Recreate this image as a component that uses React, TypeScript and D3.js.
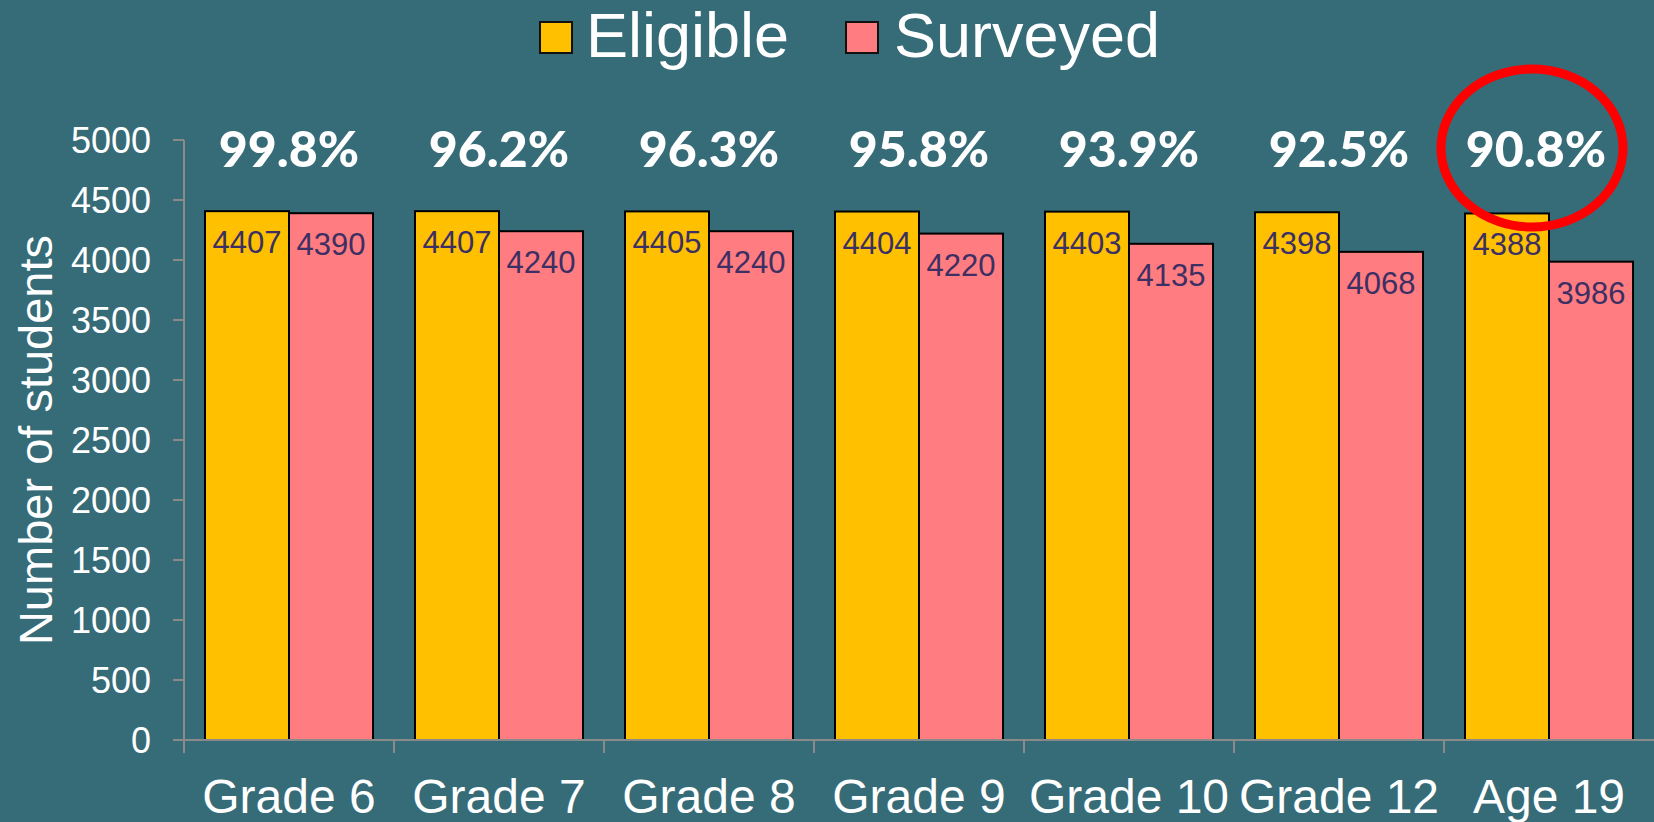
import React from 'react';
import * as d3 from 'd3';

const categories = ['Grade 6', 'Grade 7', 'Grade 8', 'Grade 9', 'Grade 10', 'Grade 12', 'Age 19'];
const eligible = [4407, 4407, 4405, 4404, 4403, 4398, 4388];
const surveyed = [4390, 4240, 4240, 4220, 4135, 4068, 3986];
const rates = ['99.8%', '96.2%', '96.3%', '95.8%', '93.9%', '92.5%', '90.8%'];
const yTicks = [0, 500, 1000, 1500, 2000, 2500, 3000, 3500, 4000, 4500, 5000];
const seriesNames = ['Eligible', 'Surveyed'];

const W = 1654;
const H = 822;
const BG = '#366b78';
const colors = ['#ffc000', '#ff7c80'];
const labelColor = '#3b2f63';
const axisColor = '#8a8a8a';
const sans = 'Liberation Sans, Arial, sans-serif';

export default function App() {
  const margin = { top: 140, right: 0, bottom: 82, left: 184 };

  const x = d3.scaleBand()
    .domain(categories)
    .range([margin.left, W - margin.right])
    .paddingInner(0.2)
    .paddingOuter(0.1);
  // band spans the whole category slot; bars sit inside it
  const step = x.step();
  const slot = (c: string) => x(c)! - (step - x.bandwidth()) / 2;

  const inner = d3.scaleBand()
    .domain(seriesNames)
    .range([0, x.bandwidth()]);

  const y = d3.scaleLinear()
    .domain([0, 5000])
    .range([H - margin.bottom, margin.top]);

  const y0 = y(0);
  const series = [eligible, surveyed];

  // red circle around the last rate
  const last = categories[categories.length - 1];
  const ringX = slot(last) + step / 2 - 17;
  const ringY = y(5000) + 8;

  return (
    <svg width={W} height={H} style={{ position: 'absolute', left: 0, top: 0, display: 'block' }}>
      <rect width={W} height={H} fill={BG} />

      {/* legend */}
      <g fontFamily={sans} fill="#fff" fontSize={63}>
        <rect x={540} y={22} width={32} height={31} fill={colors[0]} stroke="#111" strokeWidth={2} />
        <text x={586} y={57}>{seriesNames[0]}</text>
        <rect x={846} y={22} width={32} height={31} fill={colors[1]} stroke="#111" strokeWidth={2} />
        <text x={894} y={57}>{seriesNames[1]}</text>
      </g>

      {/* bars */}
      {categories.map((c, i) => (
        <g key={c}>
          {series.map((s, j) => {
            const bx = x(c)! + inner(seriesNames[j])!;
            const top = y(s[i]);
            return (
              <g key={j}>
                <rect x={bx} y={top} width={inner.bandwidth()} height={y0 - top}
                  fill={colors[j]} stroke="#000" strokeWidth={2} />
                <text x={bx + inner.bandwidth() / 2} y={top + 42} textAnchor="middle"
                  fontFamily={sans} fontSize={31} fill={labelColor}>{s[i]}</text>
              </g>
            );
          })}
          <text x={c === last ? ringX + 4 : slot(c) + step / 2} y={167} textAnchor="middle"
            fontFamily="Lato, 'Open Sans', sans-serif"
            fontWeight={900} fontSize={50} fill="#fff">{rates[i]}</text>
          <text x={slot(c) + step / 2} y={813} textAnchor="middle" fontFamily={sans}
            fontSize={48} fill="#fff">{c}</text>
        </g>
      ))}

      {/* y axis */}
      <line x1={margin.left} x2={margin.left} y1={y(5000)} y2={y0} stroke={axisColor} strokeWidth={2} />
      {yTicks.map(t => (
        <g key={t}>
          <line x1={margin.left - 11} x2={margin.left} y1={y(t)} y2={y(t)} stroke={axisColor} strokeWidth={2} />
          <text x={151} y={y(t)} dy="0.36em" textAnchor="end" fontFamily={sans} fontSize={36} fill="#fff">{t}</text>
        </g>
      ))}
      <text transform={`translate(52,${(y(5000) + y0) / 2}) rotate(-90)`} textAnchor="middle"
        fontFamily={sans} fontSize={47} fill="#fff">Number of students</text>

      {/* x axis */}
      <line x1={margin.left} x2={W} y1={y0} y2={y0} stroke={axisColor} strokeWidth={2} />
      {categories.map(c => (
        <line key={c} x1={slot(c)} x2={slot(c)} y1={y0} y2={y0 + 13} stroke={axisColor} strokeWidth={2} />
      ))}

      <ellipse cx={ringX} cy={ringY} rx={91} ry={79} fill="none" stroke="#ff0000" strokeWidth={9} />
    </svg>
  );
}
